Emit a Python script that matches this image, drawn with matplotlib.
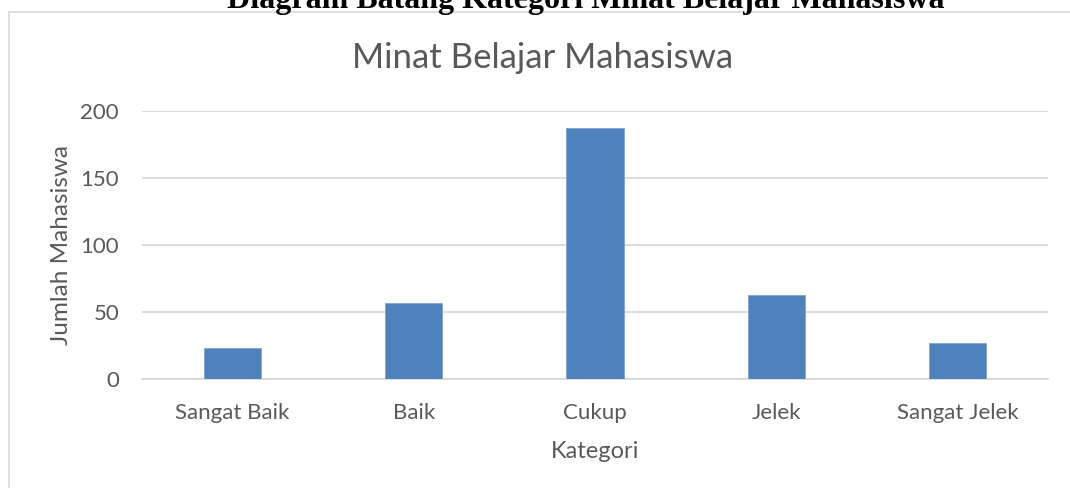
import matplotlib.pyplot as plt
from matplotlib.patches import Rectangle

kategori = ['Sangat Baik', 'Baik', 'Cukup', 'Jelek', 'Sangat Jelek']
jumlah = [23, 57, 187, 63, 27]
yticks = [0, 50, 100, 150, 200]

abu = '#595959'
plt.rcParams['font.family'] = ['Lato', 'DejaVu Sans']

fig = plt.figure(figsize=(10.70, 4.88), dpi=100)
ax = fig.add_axes([142 / 1070, 1 - 379 / 488, 906 / 1070, 268 / 488])

# bingkai chart
fig.patches.append(Rectangle((9 / 1070, -0.1), 1.2, 1.1 - 12 / 488,
                             transform=fig.transFigure, fill=False,
                             edgecolor='#d9d9d9', lw=1.2))

ax.bar(range(len(kategori)), jumlah, width=0.315, color='#4f81bd',
       edgecolor='#7fa3d0', lw=0.6, zorder=3)

ax.set_xlim(-0.5, len(kategori) - 0.5)
ax.set_ylim(0, 200)
ax.set_yticks(yticks)
ax.set_xticks(range(len(kategori)))
ax.set_xticklabels(kategori)

# grid dan sumbu
ax.grid(axis='y', color='#d9d9d9', lw=1.3, zorder=0)
for s in ['top', 'right', 'left']:
    ax.spines[s].set_visible(False)
ax.spines['bottom'].set_color('#d9d9d9')
ax.spines['bottom'].set_linewidth(1.3)
ax.tick_params(length=0, labelsize=16, colors=abu)
ax.tick_params(axis='y', pad=16.5)
ax.tick_params(axis='x', pad=17)

ax.set_ylabel('Jumlah Mahasiswa', fontsize=17.5, color=abu, labelpad=6)
ax.set_xlabel('Kategori', fontsize=17, color=abu, labelpad=13)

# judul chart (di tengah bingkai, bukan di tengah axes)
fig.text(543 / 1070, 1 - 58 / 488, 'Minat Belajar Mahasiswa',
         ha='center', va='center', fontsize=25, color=abu)

fig.text(586 / 1070, 1 - 8 / 488, 'Diagram Batang Kategori Minat Belajar Mahasiswa',
         ha='center', va='baseline', fontsize=23, fontweight='bold',
         family='Liberation Serif')

fig.savefig('out.png', dpi=100)
